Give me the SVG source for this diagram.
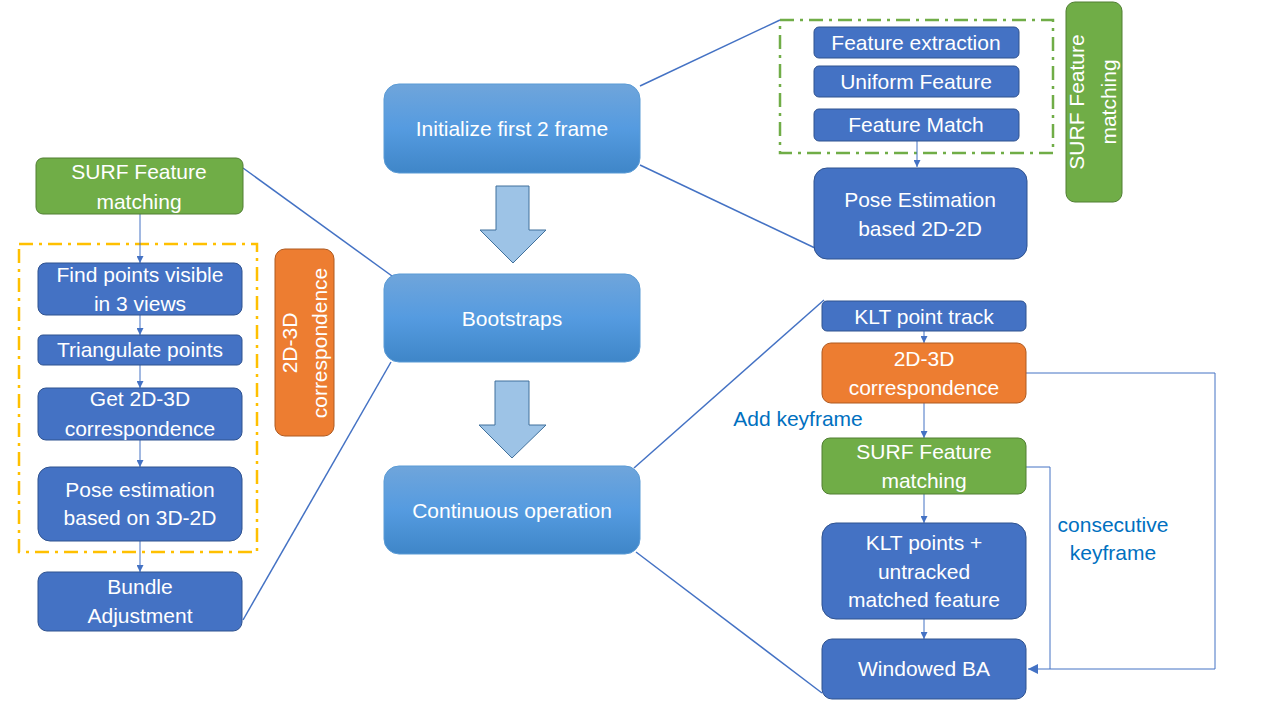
<svg xmlns="http://www.w3.org/2000/svg" width="1280" height="720" viewBox="0 0 1280 720">
<defs>
<linearGradient id="gb" x1="0" y1="0" x2="0" y2="1">
<stop offset="0" stop-color="#6fa5db"/>
<stop offset="0.5" stop-color="#559be0"/>
<stop offset="1" stop-color="#3f86c8"/>
</linearGradient>
<marker id="ah" viewBox="0 0 10 10" refX="10" refY="5" markerWidth="7" markerHeight="7" markerUnits="userSpaceOnUse" orient="auto">
<path d="M0,0 L10,5 L0,10 z" fill="#4472c4"/>
</marker>
<marker id="ah2" viewBox="0 0 10 10" refX="10" refY="5" markerWidth="10" markerHeight="10" markerUnits="userSpaceOnUse" orient="auto">
<path d="M0,0 L10,5 L0,10 z" fill="#4472c4"/>
</marker>
</defs>
<style>
.t{font-family:"Liberation Sans",Arial,sans-serif;font-size:21px;fill:#ffffff;text-anchor:middle}
.lbl{font-family:"Liberation Sans",Arial,sans-serif;font-size:21px;fill:#0070c0;text-anchor:middle}
.blue{fill:#4472c4;stroke:#2f528f;stroke-width:1}
.green{fill:#70ad47;stroke:#507e32;stroke-width:1}
.orange{fill:#ed7d31;stroke:#ae5a21;stroke-width:1}
.main{fill:url(#gb);stroke:#5b9bd5;stroke-width:1}
.conn{fill:none;stroke:#4472c4;stroke-width:1.5}
.flow{fill:none;stroke:#4472c4;stroke-width:1;marker-end:url(#ah)}
.blk{fill:#9dc3e6;stroke:#41719c;stroke-width:1}
</style>
<rect width="1280" height="720" fill="#ffffff"/>

<g id="groups">
<rect x="780" y="20" width="273" height="133" fill="none" stroke="#70ad47" stroke-width="2.5" stroke-dasharray="14,6,3,6"/>
<rect x="19" y="244" width="238" height="308" fill="none" stroke="#ffc000" stroke-width="2.5" stroke-dasharray="14,6,3,6"/>
</g>

<g id="connectors">
<line class="conn" x1="640" y1="86" x2="780" y2="20"/>
<line class="conn" x1="640" y1="165" x2="815" y2="248"/>
<line class="conn" x1="243" y1="168" x2="392" y2="276"/>
<line class="conn" x1="243" y1="620" x2="391" y2="362"/>
<line class="conn" x1="634" y1="468" x2="824" y2="300"/>
<line class="conn" x1="636" y1="552" x2="822" y2="693"/>
<line class="flow" x1="917" y1="141" x2="917" y2="167"/>
<line class="flow" x1="140" y1="214" x2="140" y2="263"/>
<line class="flow" x1="140" y1="315" x2="140" y2="335"/>
<line class="flow" x1="140" y1="365" x2="140" y2="388"/>
<line class="flow" x1="140" y1="440" x2="140" y2="467"/>
<line class="flow" x1="140" y1="541" x2="140" y2="572"/>
<line class="flow" x1="924" y1="331" x2="924" y2="343"/>
<line class="flow" x1="924" y1="403" x2="924" y2="438"/>
<line class="flow" x1="924" y1="494" x2="924" y2="523"/>
<line class="flow" x1="924" y1="619" x2="924" y2="639"/>
<polyline fill="none" stroke="#4472c4" stroke-width="1" points="1026,373 1215,373 1215,669 1050,669"/>
<polyline fill="none" stroke="#4472c4" stroke-width="1" points="1026,467 1050,467 1050,669 1028,669" marker-end="url(#ah2)"/>
<text class="lbl" x="798" y="426">Add keyframe</text>
<text class="lbl" x="1113" y="532">consecutive</text>
<text class="lbl" x="1113" y="560">keyframe</text>
</g>

<g id="block-arrows">
<path class="blk" d="M496,186 L529,186 L529,230 L546,230 L513,263 L480,230 L496,230 Z"/>
<path class="blk" d="M495,381 L529,381 L529,425 L546,425 L512,458 L479,425 L495,425 Z"/>
</g>

<g id="initialize">
<rect class="main" x="384" y="84" width="256" height="89" rx="15"/>
<text class="t" x="512" y="136">Initialize first 2 frame</text>
</g>
<g id="bootstraps">
<rect class="main" x="384" y="274" width="256" height="88" rx="15"/>
<text class="t" x="512" y="326">Bootstraps</text>
</g>
<g id="continuous">
<rect class="main" x="384" y="466" width="256" height="88" rx="15"/>
<text class="t" x="512" y="518">Continuous operation</text>
</g>

<g id="feature-extraction">
<rect class="blue" x="814" y="27" width="205" height="31" rx="5"/>
<text class="t" x="916" y="50">Feature extraction</text>
</g>
<g id="uniform-feature">
<rect class="blue" x="814" y="66" width="205" height="31" rx="5"/>
<text class="t" x="916" y="89">Uniform Feature</text>
</g>
<g id="feature-match">
<rect class="blue" x="814" y="109" width="205" height="32" rx="5"/>
<text class="t" x="916" y="132">Feature Match</text>
</g>
<g id="pose-2d2d">
<rect class="blue" x="814" y="168" width="213" height="91" rx="13"/>
<text class="t" x="920" y="207">Pose Estimation</text>
<text class="t" x="920" y="236">based 2D-2D</text>
</g>
<g id="surf-vertical">
<rect class="green" x="1066" y="2" width="56" height="200" rx="9"/>
<text class="t" transform="translate(1084,102) rotate(-90)" x="0" y="0">SURF Feature</text>
<text class="t" transform="translate(1116,102) rotate(-90)" x="0" y="0">matching</text>
</g>

<g id="surf-left">
<rect class="green" x="36" y="158" width="207" height="56" rx="7"/>
<text class="t" x="139" y="179">SURF Feature</text>
<text class="t" x="139" y="209">matching</text>
</g>
<g id="find-points">
<rect class="blue" x="38" y="263" width="204" height="52" rx="8"/>
<text class="t" x="140" y="282">Find points visible</text>
<text class="t" x="140" y="311">in 3 views</text>
</g>
<g id="triangulate">
<rect class="blue" x="38" y="335" width="204" height="30" rx="5"/>
<text class="t" x="140" y="357">Triangulate points</text>
</g>
<g id="get-2d3d">
<rect class="blue" x="38" y="388" width="204" height="52" rx="8"/>
<text class="t" x="140" y="406">Get 2D-3D</text>
<text class="t" x="140" y="436">correspondence</text>
</g>
<g id="pose-3d2d">
<rect class="blue" x="38" y="467" width="204" height="74" rx="12"/>
<text class="t" x="140" y="497">Pose estimation</text>
<text class="t" x="140" y="525">based on 3D-2D</text>
</g>
<g id="bundle">
<rect class="blue" x="38" y="572" width="204" height="59" rx="9"/>
<text class="t" x="140" y="594">Bundle</text>
<text class="t" x="140" y="623">Adjustment</text>
</g>
<g id="corr-vertical">
<rect class="orange" x="275" y="249" width="59" height="187" rx="10"/>
<text class="t" transform="translate(297,343) rotate(-90)" x="0" y="0">2D-3D</text>
<text class="t" transform="translate(327,343) rotate(-90)" x="0" y="0">correspondence</text>
</g>

<g id="klt-track">
<rect class="blue" x="822" y="301" width="204" height="30" rx="5"/>
<text class="t" x="924" y="324">KLT point track</text>
</g>
<g id="corr-right">
<rect class="orange" x="822" y="343" width="204" height="60" rx="9"/>
<text class="t" x="924" y="366">2D-3D</text>
<text class="t" x="924" y="395">correspondence</text>
</g>
<g id="surf-right">
<rect class="green" x="822" y="438" width="204" height="56" rx="8"/>
<text class="t" x="924" y="459">SURF Feature</text>
<text class="t" x="924" y="488">matching</text>
</g>
<g id="klt-points">
<rect class="blue" x="822" y="523" width="204" height="96" rx="14"/>
<text class="t" x="924" y="550">KLT points +</text>
<text class="t" x="924" y="579">untracked</text>
<text class="t" x="924" y="607">matched feature</text>
</g>
<g id="windowed-ba">
<rect class="blue" x="822" y="639" width="204" height="60" rx="10"/>
<text class="t" x="924" y="676">Windowed BA</text>
</g>
</svg>
